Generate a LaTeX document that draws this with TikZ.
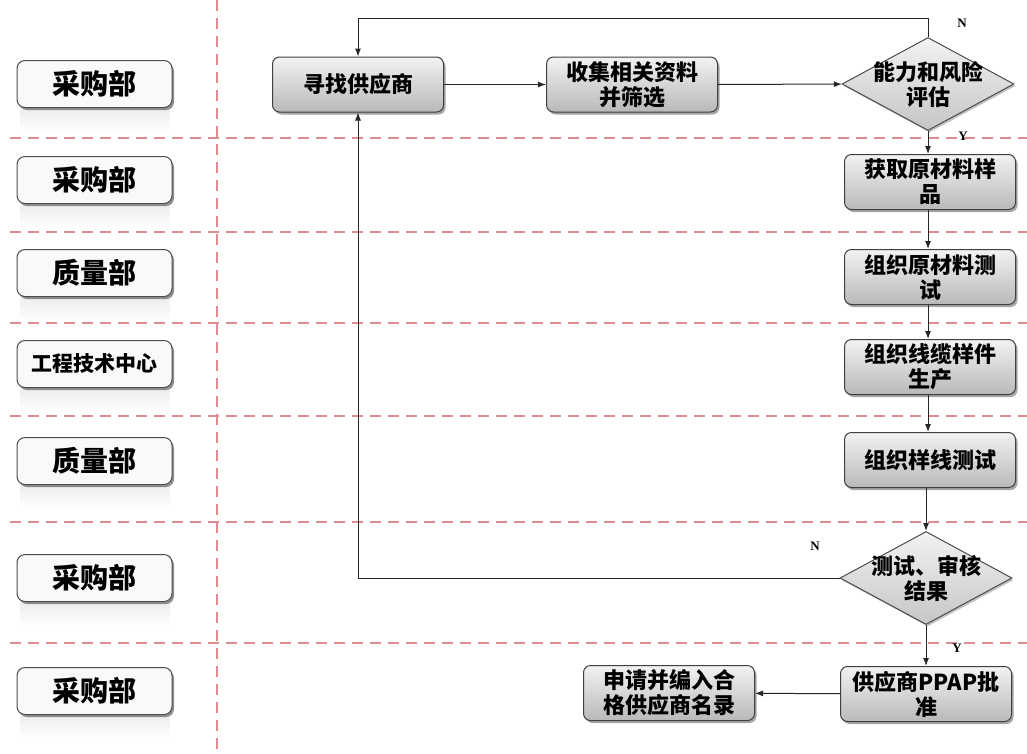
\documentclass[tikz,border=0pt]{standalone}
\usepackage{fontspec}
\newfontfamily\cjk{Noto Sans CJK SC}
\newfontfamily\lbl{Liberation Serif}
\usetikzlibrary{shapes.geometric,shadows,arrows.meta}
\definecolor{lanered}{RGB}{222,140,144}
\tikzset{
  lane/.style={draw=lanered, line width=1.1pt, dash pattern=on 11pt off 7pt},
  dept/.style={draw=black!70, line width=1pt, rounded corners=8pt, fill=gray!5,
    minimum width=155pt, minimum height=47pt, inner sep=0pt,
    drop shadow={shadow xshift=2pt, shadow yshift=-2.5pt, fill=black!55, opacity=0.8},
    font=\cjk\bfseries\fontsize{28}{30}\selectfont},
  flow/.style={draw=black!75, line width=1pt, rounded corners=7pt,
    top color=gray!10, bottom color=gray!55,
    minimum width=171pt, minimum height=55pt, inner sep=0pt, align=center,
    drop shadow={shadow xshift=2pt, shadow yshift=-2.5pt, fill=black!50, opacity=0.7},
    font=\cjk\bfseries\fontsize{22}{25}\selectfont},
  decision/.style={diamond, draw=black!70, line width=1pt, aspect=1.85,
    top color=gray!10, bottom color=gray!45,
    minimum width=172pt, minimum height=93pt, inner sep=-16pt, align=center,
    drop shadow={shadow xshift=1.5pt, shadow yshift=-2pt, fill=black!40, opacity=0.6},
    font=\cjk\bfseries\fontsize{22}{25}\selectfont},
  arr/.style={draw=black!85, line width=1pt, -{Latex[length=8pt,width=6pt]}},
  yn/.style={font=\lbl\bfseries\fontsize{13}{13}\selectfont, inner sep=1pt},
  refl/.style={top color=gray!14, bottom color=white, draw=none}
}
\begin{document}
\begin{tikzpicture}[x=1pt,y=-1pt]
\useasboundingbox[fill=white] (0,0) rectangle (1027,753);
% swimlane lines
\foreach \yy in {138,232,323,416,522,643}
  \draw[lane] (10,\yy) -- (1027,\yy);
\draw[lane] (217,0) -- (217,753);
% reflections under department boxes
\foreach \cy in {84,180,273,364,461,578,691}
  \fill[refl] (20,\cy+25) rectangle (170,\cy+48);
% department boxes
\node[dept] (p1) at (94.5,84) {采购部};
\node[dept] (p2) at (94.5,180) {采购部};
\node[dept] (p3) at (94.5,273) {质量部};
\node[dept, font=\cjk\bfseries\fontsize{21}{24}\selectfont] (p4) at (94.5,364) {工程技术中心};
\node[dept] (p5) at (94.5,461) {质量部};
\node[dept] (p6) at (94.5,578) {采购部};
\node[dept] (p7) at (94.5,691) {采购部};
% flow nodes
\node[flow] (f1) at (358,84.5) {寻找供应商};
\node[flow] (f2) at (632,84.5) {收集相关资料\\并筛选};
\node[decision] (d1) at (928,84) {能力和风险\\评估};
\node[flow] (f3) at (930,182) {获取原材料样\\品};
\node[flow] (f4) at (930,277) {组织原材料测\\试};
\node[flow] (f5) at (930,367) {组织线缆样件\\生产};
\node[flow] (f6) at (930,460) {组织样线测试};
\node[decision] (d2) at (926,578) {测试、审核\\结果};
\node[flow] (f7) at (926,694) {供应商PPAP批\\准};
\node[flow] (f8) at (669,693) {申请并编入合\\格供应商名录};
% connectors
\coordinate (t1) at (928,18);
\draw[arr] (f1) -- (f2);
\draw[arr] (f2) -- (d1);
\draw[arr] (d1.north) -- (t1) -| (f1.north);
\draw[arr] (d1.south) -- (d1.south |- f3.north);
\draw[arr] (f3.south -| d1) -- (f4.north -| d1);
\draw[arr] (f4.south -| d1) -- (f5.north -| d1);
\draw[arr] (f5.south -| d1) -- (f6.north -| d1);
\draw[arr] (f6.south -| d2) -- (d2.north);
\draw[arr] (d2.west) -| (f1.south);
\draw[arr] (d2.south) -- (f7.north);
\draw[arr] (f7) -- (f8);
% labels
\node[yn] (n1) at (962,23) {N};
\node[yn] (y1) at (963,136) {Y};
\node[yn] (n2) at (815,546) {N};
\node[yn] (y2) at (957,648) {Y};
\end{tikzpicture}
\end{document}
